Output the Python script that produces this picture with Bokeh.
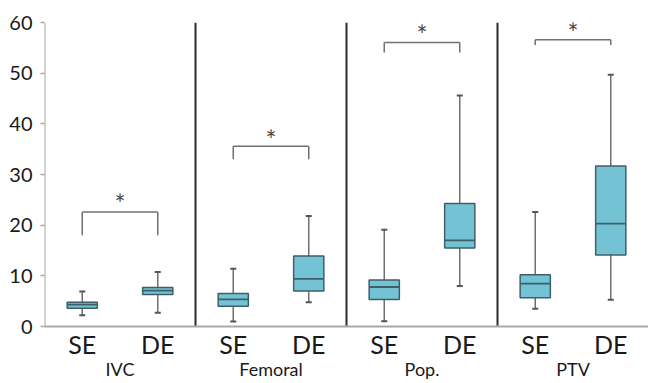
from bokeh.plotting import figure
from bokeh.models import FactorRange, Range1d, FixedTicker, ColumnDataSource
from bokeh.core.properties import value
from bokeh.embed import file_html
from bokeh.resources import INLINE

# Vessel segments and the two measurement groups in each
segments = ["IVC", "Femoral", "Pop.", "PTV"]
groups = ["SE", "DE"]

# Box-plot statistics per (segment, group), in the order SE, DE for each segment
whisker_low = [2.2, 2.7, 1.0, 4.8, 1.05, 8.0, 3.5, 5.3]
q1 = [3.6, 6.3, 4.0, 7.0, 5.35, 15.5, 5.7, 14.1]
median = [4.3, 7.1, 5.35, 9.4, 7.8, 17.0, 8.45, 20.3]
q3 = [4.8, 7.7, 6.5, 13.9, 9.2, 24.3, 10.2, 31.7]
whisker_high = [6.9, 10.75, 11.4, 21.8, 19.1, 45.6, 22.6, 49.7]

# Significance brackets: bar height and leg bottom per segment
bracket_top = [22.6, 35.6, 56.1, 56.6]
bracket_leg = [18.0, 33.0, 54.1, 55.6]
star_y = [25.6, 38.3, 58.9, 59.4]
star_text = ["*", "*", "*", "*"]

y_ticks = [0, 10, 20, 30, 40, 50, 60]
y_axis_max = 60

FONT = "Lato"
BOX_FILL = "#74c3d4"
BOX_LINE = "#3f5f68"
WHISKER = "#6f6f6f"
AXIS = "#a8a8a8"

factors = [(s, g) for s in segments for g in groups]

# Range runs a little above the last tick so the top asterisks are not clipped;
# the visible axis line is drawn separately and stops at the last tick.
p = figure(
    width=648, height=383,
    x_range=FactorRange(*factors, factor_padding=0, group_padding=0, range_padding=0),
    y_range=Range1d(0, 62),
    output_backend="svg", toolbar_location=None,
    min_border_left=44, min_border_right=0, min_border_top=12, min_border_bottom=57,
)
p.outline_line_color = None
p.xgrid.grid_line_color = None
p.ygrid.grid_line_color = None
p.background_fill_color = "white"
p.border_fill_color = "white"

half = 0.2
cap = 0.04
src = ColumnDataSource(dict(
    x=factors,
    xl=[(s, g, -half) for s, g in factors],
    xr=[(s, g, half) for s, g in factors],
    cl=[(s, g, -cap) for s, g in factors],
    cr=[(s, g, cap) for s, g in factors],
    lo=whisker_low, q1=q1, med=median, q3=q3, hi=whisker_high,
))

# Y axis line, from zero up to the top tick
left_edge = (segments[0], groups[0], -0.5)
p.segment(x0=[left_edge], y0=[0], x1=[left_edge], y1=[y_axis_max],
          line_color=AXIS, line_width=2)

# Whiskers and caps
p.segment(x0="x", y0="lo", x1="x", y1="q1", source=src, line_color=WHISKER, line_width=1.5)
p.segment(x0="x", y0="q3", x1="x", y1="hi", source=src, line_color=WHISKER, line_width=1.5)
p.segment(x0="cl", y0="lo", x1="cr", y1="lo", source=src, line_color="#555555", line_width=2)
p.segment(x0="cl", y0="hi", x1="cr", y1="hi", source=src, line_color="#555555", line_width=2)

# Boxes and medians
p.vbar(x="x", width=2 * half, bottom="q1", top="q3", source=src,
       fill_color=BOX_FILL, line_color=BOX_LINE, line_width=1.5)
p.segment(x0="xl", y0="med", x1="xr", y1="med", source=src, line_color=BOX_LINE, line_width=1.8)

# Vertical separators between segments
sep_x = [(s, "DE", 0.5) for s in segments[:-1]]
p.segment(x0=sep_x, y0=[0] * len(sep_x), x1=sep_x, y1=[y_axis_max] * len(sep_x),
          line_color="#2b2b2b", line_width=2)

# Significance brackets
bsrc = ColumnDataSource(dict(
    se=[(s, "SE") for s in segments],
    de=[(s, "DE") for s in segments],
    mid=[(s, "DE", -0.5) for s in segments],
    top=bracket_top, leg=bracket_leg, star=star_y, label=star_text,
))
p.segment(x0="se", y0="top", x1="de", y1="top", source=bsrc, line_color="#707070", line_width=1.5)
p.segment(x0="se", y0="leg", x1="se", y1="top", source=bsrc, line_color="#707070", line_width=1.5)
p.segment(x0="de", y0="leg", x1="de", y1="top", source=bsrc, line_color="#707070", line_width=1.5)
p.text(x="mid", y="star", text="label", source=bsrc,
       text_align="center", text_baseline="middle", text_font_size="26px",
       text_color="#4a4a4a", text_font=value(FONT), y_offset=7)

# Axes
xa = p.xaxis[0]
xa.axis_line_color = AXIS
xa.axis_line_width = 2
xa.major_tick_line_color = None
xa.minor_tick_line_color = None
xa.major_label_text_font = FONT
xa.major_label_text_font_size = "25px"
xa.major_label_text_color = "#1a1a1a"
xa.major_label_standoff = -4
xa.group_text_font = FONT
xa.group_text_font_size = "18px"
xa.group_text_font_style = "normal"
xa.group_text_color = "#1a1a1a"
xa.separator_line_color = None

ya = p.yaxis[0]
ya.ticker = FixedTicker(ticks=y_ticks)
ya.axis_line_color = None
ya.major_tick_line_color = AXIS
ya.major_tick_line_width = 1.5
ya.major_tick_in = 0
ya.major_tick_out = 4
ya.minor_tick_line_color = None
ya.major_label_text_font = FONT
ya.major_label_text_font_size = "20px"
ya.major_label_text_color = "#1a1a1a"
ya.major_label_standoff = 8

open("out.html", "w").write(file_html(p, INLINE))
